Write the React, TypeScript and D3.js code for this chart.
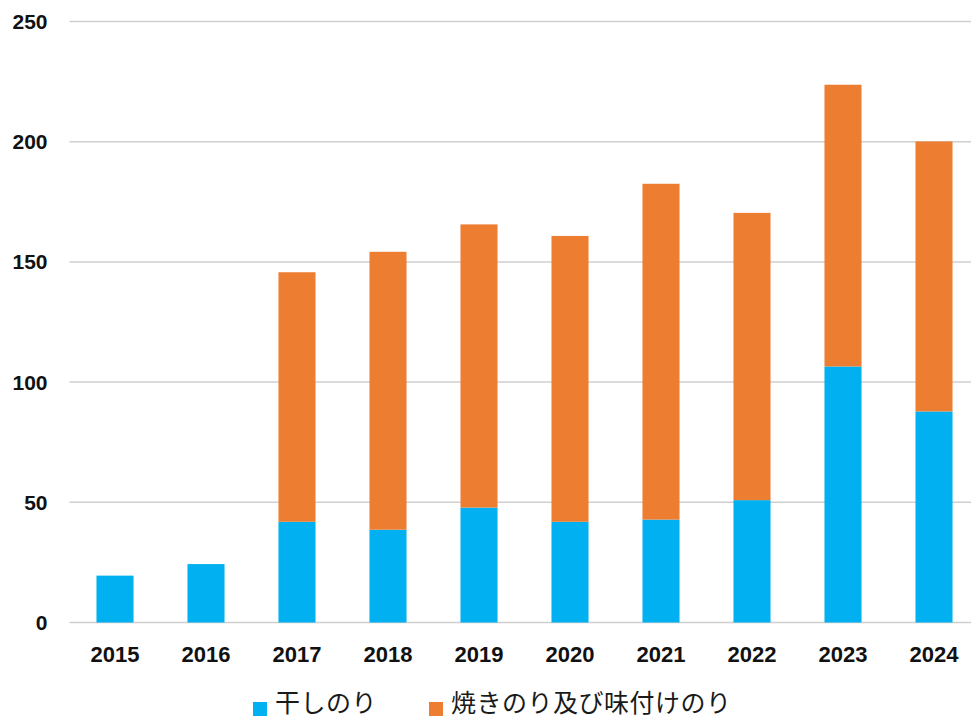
import React from 'react';
import * as d3 from 'd3';

// 年ごとの生産量
const years = ['2015', '2016', '2017', '2018', '2019', '2020', '2021', '2022', '2023', '2024'];
const hoshiNori = [19.5, 24.3, 41.9, 38.6, 47.8, 41.9, 42.8, 50.9, 106.5, 87.8];
const yakiNori = [0, 0, 103.8, 115.6, 117.8, 118.9, 139.7, 119.5, 117.2, 112.3];
const seriesNames = ['干しのり', '焼きのり及び味付けのり'];
const yTicks = [0, 50, 100, 150, 200, 250];

const colors = ['#00B0F0', '#ED7D31'];

const App = () => {
    const svgRef = React.useRef<SVGSVGElement>(null);

    const W = 971;
    const H = 719;
    const margin = { top: 21.5, left: 69.5, bottom: 622.5, right: 979.5 };

    React.useEffect(() => {
        const svg = d3.select(svgRef.current);
        svg.selectAll('*').remove();

        const rows = years.map((y, i) => ({ year: y, hoshi: hoshiNori[i], yaki: yakiNori[i] }));

        const x = d3.scaleBand()
            .domain(years)
            .range([margin.left, margin.right])
            .paddingInner(0.593)
            .paddingOuter(0.2965);

        const y = d3.scaleLinear()
            .domain([0, 250])
            .range([margin.bottom, margin.top]);

        // grid lines
        svg.append('g')
            .selectAll('line')
            .data(yTicks)
            .enter()
            .append('line')
            .attr('x1', margin.left)
            .attr('x2', W)
            .attr('y1', (d) => y(d))
            .attr('y2', (d) => y(d))
            .attr('stroke', '#cfcfcf')
            .attr('stroke-width', 1.5);

        // y labels
        svg.append('g')
            .selectAll('text')
            .data(yTicks)
            .enter()
            .append('text')
            .attr('x', 47.5)
            .attr('y', (d) => y(d))
            .attr('dy', '0.36em')
            .attr('text-anchor', 'end')
            .style('font-family', '"Liberation Sans", Arial, sans-serif')
            .style('font-weight', 'bold')
            .style('font-size', '21px')
            .attr('fill', '#111')
            .text((d) => d);

        // stacked bars
        const stacked = d3.stack<any>().keys(['hoshi', 'yaki'])(rows);

        svg.append('g')
            .selectAll('g')
            .data(stacked)
            .enter()
            .append('g')
            .attr('fill', (d, i) => colors[i])
            .selectAll('rect')
            .data((d) => d.filter((p) => p[1] - p[0] > 0))
            .enter()
            .append('rect')
            .attr('x', (d: any) => x(d.data.year)!)
            .attr('width', x.bandwidth())
            .attr('y', (d) => y(d[1]))
            .attr('height', (d) => y(d[0]) - y(d[1]));

        // x labels
        svg.append('g')
            .selectAll('text')
            .data(years)
            .enter()
            .append('text')
            .attr('x', (d) => x(d)! + x.bandwidth() / 2)
            .attr('y', 661.5)
            .attr('text-anchor', 'middle')
            .style('font-family', '"Liberation Sans", Arial, sans-serif')
            .style('font-weight', 'bold')
            .style('font-size', '22px')
            .attr('fill', '#111')
            .text((d) => d);

        // legend
        const legendX = [253, 429];
        const legend = svg.append('g')
            .selectAll('g')
            .data(seriesNames)
            .enter()
            .append('g')
            .attr('transform', (d, i) => `translate(${legendX[i]},0)`);

        legend.append('rect')
            .attr('x', 0)
            .attr('y', 702)
            .attr('width', 14)
            .attr('height', 14)
            .attr('fill', (d, i) => colors[i]);

        legend.append('text')
            .attr('x', 22)
            .attr('y', 712)
            .style('font-family', '"Noto Sans CJK JP", sans-serif')
            .style('font-size', '25px')
            .style('letter-spacing', '0.5px')
            .attr('fill', '#1a1a1a')
            .text((d) => d);

    // eslint-disable-next-line react-hooks/exhaustive-deps
    }, []);

    return (
        <svg
            ref={svgRef}
            width={W}
            height={H}
            style={{ position: 'absolute', left: 0, top: 0, background: '#fff' }}
        />
    );
};

export default App;
